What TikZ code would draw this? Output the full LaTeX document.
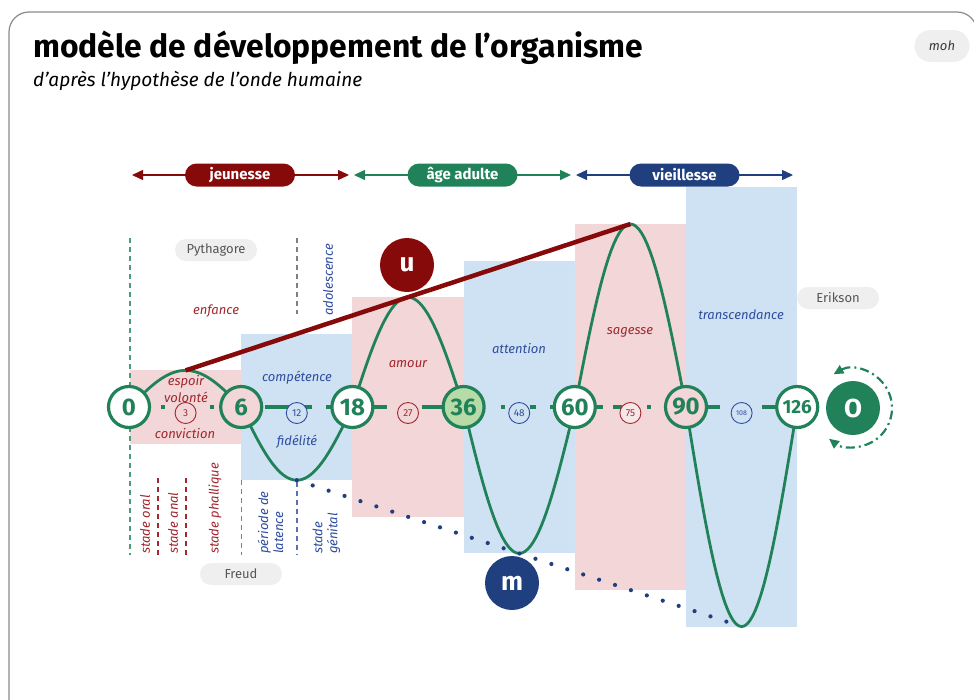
\documentclass[tikz,border=0pt]{standalone}
\usepackage{fontspec}
\setmainfont{Fira Sans}
\usetikzlibrary{arrows.meta}
\definecolor{dred}{HTML}{870A0A}
\definecolor{wgreen}{HTML}{21825A}
\definecolor{navy}{HTML}{1F3F7F}
\definecolor{pinkbg}{HTML}{F2D6D8}
\definecolor{bluebg}{HTML}{CFE2F3}
\definecolor{lgreen}{HTML}{B7DBA7}
\definecolor{pillgray}{HTML}{EFEFEF}
\definecolor{txtgray}{HTML}{555555}
\definecolor{tred}{HTML}{A0282E}
\definecolor{tblue}{HTML}{2F4D9E}
\definecolor{framegray}{HTML}{8A8A8A}
\begin{document}
\begin{tikzpicture}[x=1pt,y=-1pt,
  big/.style={circle, draw=wgreen, line width=3.2pt, minimum size=41pt, inner sep=0pt, text=wgreen, font=\fontsize{24}{24}\selectfont\bfseries},
  small/.style={circle, draw, line width=0.9pt, minimum size=21pt, inner sep=0pt, font=\fontsize{10}{10}\selectfont},
  solid circ/.style={circle, minimum size=54pt, inner sep=0pt, text=white, font=\fontsize{26}{26}\selectfont\bfseries},
  lab/.style={font=\fontsize{13}{15}\selectfont\itshape, inner sep=1pt},
  vlab/.style={lab, rotate=90, anchor=west, align=left},
  agepill/.style={rounded corners=11.5pt, text=white, minimum width=110pt, minimum height=23pt, inner sep=0pt, font=\fontsize{15}{15}\selectfont\bfseries},
  gpill/.style={rounded corners=11pt, fill=pillgray, text=txtgray, minimum width=82pt, minimum height=22pt, inner sep=0pt, font=\fontsize{13}{13}\selectfont},
  agearrow/.style={line width=1.4pt, {Triangle[length=11pt,width=10pt]}-{Triangle[length=11pt,width=10pt]}},
  vdash/.style={line width=1.6pt, dash pattern=on 5pt off 4pt},
  axisseg/.style={wgreen, line width=4pt},
  wave/.style={wgreen, line width=2.8pt},
]
\useasboundingbox (0,0) rectangle (974,699);
% frame
\draw[framegray, line width=1.2pt, rounded corners=20pt] (9,12) rectangle (977,730);
% title
\node[anchor=base west, inner sep=0pt, font=\fontsize{32}{32}\selectfont\bfseries] (title) at (33,57) {\resizebox{610pt}{!}{modèle de développement de l’organisme}};
\node[anchor=base west, inner sep=0pt, font=\fontsize{18}{18}\selectfont\itshape] (subtitle) at (33,86) {\resizebox{329pt}{!}{d’après l’hypothèse de l’onde humaine}};
\node[rounded corners=16pt, fill=pillgray, minimum width=55pt, minimum height=32pt, inner sep=0pt, font=\fontsize{13}{13}\selectfont\itshape, text=txtgray!70!black] (moh) at (942,46) {moh};
% background rectangles
\fill[pinkbg] (130,370.4) rectangle (241.2,443.6);
\fill[bluebg] (241.2,333.8) rectangle (352.4,480.2);
\fill[pinkbg] (352.4,297.2) rectangle (463.6,516.8);
\fill[bluebg] (463.6,260.6) rectangle (574.8,553.4);
\fill[pinkbg] (574.8,224) rectangle (686,590);
\fill[bluebg] (686,187.4) rectangle (797.2,626.6);
% age arrows
\coordinate (jl) at (132,175); \coordinate (jr) at (349,175);
\coordinate (al) at (354,175); \coordinate (ar) at (571,175);
\coordinate (vl) at (576,175); \coordinate (vr) at (793,175);
\draw[agearrow, dred] (jl) -- (jr);
\draw[agearrow, wgreen] (al) -- (ar);
\draw[agearrow, navy] (vl) -- (vr);
\node[agepill, fill=dred] (jeun) at (240,175) {jeunesse};
\node[agepill, fill=wgreen] (adul) at (462.5,175) {âge adulte};
\node[agepill, fill=navy] (vieil) at (684.5,175) {vieillesse};
% vertical dashed lines
\draw[vdash, wgreen!80!white] (130,238) -- (130,555);
\draw[vdash, gray] (297,238) -- (297,314);
\draw[vdash, tred] (158,478) -- (158,555);
\draw[vdash, tred] (186,478) -- (186,555);
\draw[vdash, wgreen!80!white] (241.5,480) -- (241.5,555);
\draw[vdash, tblue!80!white] (297,482) -- (297,555);
% axis segments
\foreach \a/\b in {161/165, 210/214, 265/290, 303/312, 326/333, 374/387, 422/443, 501/505, 530/536, 550/554, 596/603, 613/622, 647/651, 707/720, 762/777}
  \draw[axisseg] (\a,407) -- (\b,407);
% wave
\draw[wave] plot[domain=0:180,samples=41] ({130+111.2*(\x/180)},{407-36.6*sin(\x)})
  -- plot[domain=0:180,samples=41] ({241.2+111.2*(\x/180)},{407+73.2*sin(\x)})
  -- plot[domain=0:180,samples=41] ({352.4+111.2*(\x/180)},{407-109.8*sin(\x)})
  -- plot[domain=0:180,samples=41] ({463.6+111.2*(\x/180)},{407+146.4*sin(\x)})
  -- plot[domain=0:180,samples=41] ({574.8+111.2*(\x/180)},{407-183*sin(\x)})
  -- plot[domain=0:180,samples=41] ({686+111.2*(\x/180)},{407+219.6*sin(\x)});
% peaks and troughs
\coordinate (p1) at (185.6,370.4);
\coordinate (p5) at (630.4,224);
\coordinate (t2) at (296.8,480.2);
\coordinate (t6) at (741.6,626.6);
\draw[dred, line width=4.5pt] (p1) -- (p5);
\draw[navy, line width=4.2pt, line cap=round, dash pattern=on 0pt off 16.75pt] (t2) -- (t6);
% big circles
\node[big, fill=white] (n0) at (129,407) {0};
\node[big, fill=pinkbg] (n6) at (241.2,407) {6};
\node[big, fill=white] (n18) at (352.4,407) {18};
\node[big, fill=lgreen] (n36) at (463.6,407) {36};
\node[big, fill=white] (n60) at (574.8,407) {60};
\node[big, fill=pinkbg] (n90) at (686,407) {90};
\node[big, fill=white, font=\fontsize{19}{19}\selectfont\bfseries] (n126) at (797.2,407) {126};
% small circles
\node[small, draw=tred, text=tred, fill=pinkbg] (s3) at (185.6,413) {3};
\node[small, draw=tblue, text=tblue, fill=bluebg] (s12) at (296.8,413) {12};
\node[small, draw=tred, text=tred, fill=pinkbg] (s27) at (408,413) {27};
\node[small, draw=tblue, text=tblue, fill=bluebg] (s48) at (519.2,413) {48};
\node[small, draw=tred, text=tred, fill=pinkbg!80!tred!30] (s75) at (630.4,413) {75};
\node[small, draw=tblue, text=tblue, fill=bluebg, font=\fontsize{7}{7}\selectfont] (s108) at (741.6,413) {108};
% u, m, O
\node[solid circ, fill=dred] (u) at (407,265) {u};
\node[solid circ, fill=navy] (m) at (512,583) {m};
\node[solid circ, fill=wgreen] (O) at (853,408) {O};
\draw[wgreen, line width=2.2pt, dash pattern=on 9pt off 4pt on 2pt off 4pt, {Triangle[length=10pt,width=9pt]}-{Triangle[length=10pt,width=9pt]}] (O) ++(-120:39) arc[start angle=-120, end angle=128, radius=39];
% labels
\node[lab, text=tred] (enf) at (216,311) {enfance};
\node[lab, text=tred] (esp) at (186,382) {espoir};
\node[lab, text=tred] (vol) at (186,397) {volonté};
\node[lab, text=tred] (conv) at (185,434) {conviction};
\node[lab, text=tblue] (comp) at (297,378) {compétence};
\node[lab, text=tblue] (fid) at (297,442) {fidélité};
\node[lab, text=tred] (amour) at (408,364) {amour};
\node[lab, text=tblue] (att) at (519,349) {attention};
\node[lab, text=tred] (sag) at (630,332) {sagesse};
\node[lab, text=tblue] (trans) at (741,315) {transcendance};
\node[vlab, text=tblue] (ado) at (328,317) {adolescence};
\node[vlab, text=tred] (oral) at (145,555) {stade oral};
\node[vlab, text=tred] (anal) at (173,555) {stade anal};
\node[vlab, text=tred] (phal) at (215,555) {stade phallique};
\node[vlab, text=tblue] (lat) at (270.5,555) {période de\\latence};
\node[vlab, text=tblue] (gen) at (326.5,555) {stade\\génital};
\node[gpill] (pyth) at (216,250) {Pythagore};
\node[gpill] (erik) at (838,298) {Erikson};
\node[gpill] (freud) at (241,574) {Freud};
\end{tikzpicture}
\end{document}
